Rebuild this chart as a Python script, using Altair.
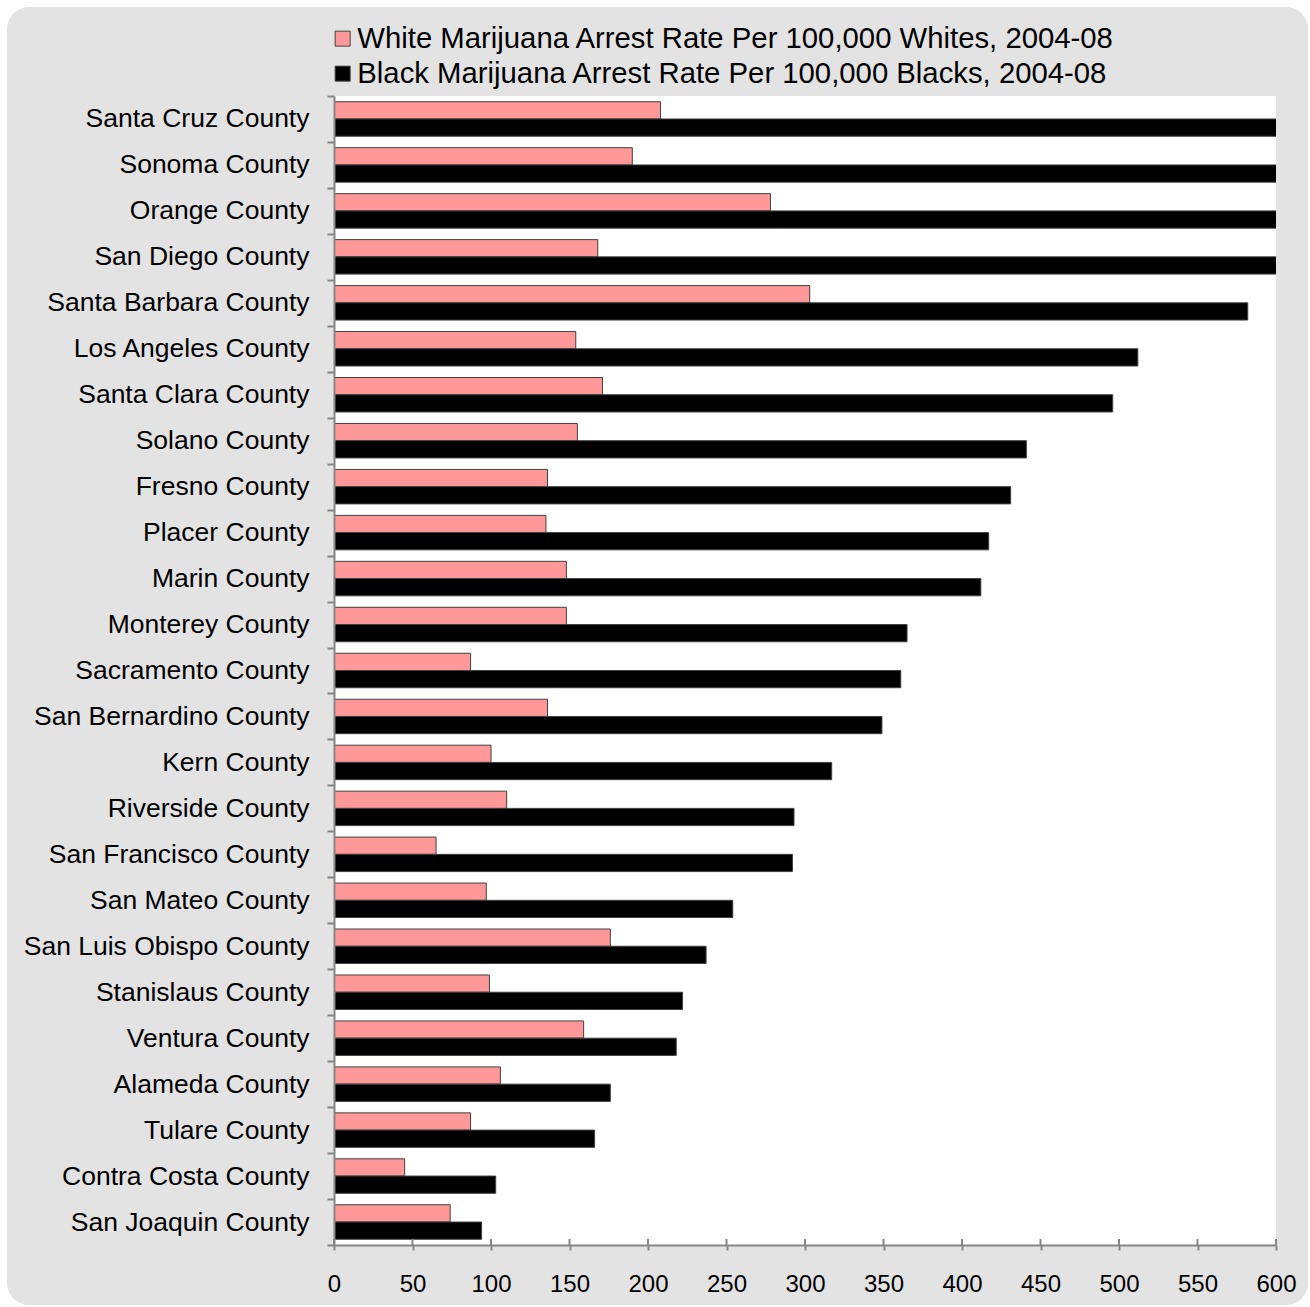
import altair as alt
import pandas as pd

counties = [
    "Santa Cruz County", "Sonoma County", "Orange County", "San Diego County",
    "Santa Barbara County", "Los Angeles County", "Santa Clara County", "Solano County",
    "Fresno County", "Placer County", "Marin County", "Monterey County",
    "Sacramento County", "San Bernardino County", "Kern County", "Riverside County",
    "San Francisco County", "San Mateo County", "San Luis Obispo County", "Stanislaus County",
    "Ventura County", "Alameda County", "Tulare County", "Contra Costa County",
    "San Joaquin County",
]
white_rate = [208, 190, 278, 168, 303, 154, 171, 155, 136, 135, 148, 148,
              87, 136, 100, 110, 65, 97, 176, 99, 159, 106, 87, 45, 74]
black_rate = [650, 640, 630, 620, 582, 512, 496, 441, 431, 417, 412, 365,
              361, 349, 317, 293, 292, 254, 237, 222, 218, 176, 166, 103, 94]
series = [
    "White Marijuana Arrest Rate Per 100,000 Whites, 2004-08",
    "Black Marijuana Arrest Rate Per 100,000 Blacks, 2004-08",
]
series_colors = ["#FF9999", "#000000"]
x_ticks = list(range(0, 601, 50))

rows = []
for c, w, b in zip(counties, white_rate, black_rate):
    rows.append({"county": c, "series": series[0], "value": w})
    rows.append({"county": c, "series": series[1], "value": b})
df = pd.DataFrame(rows)

W, H = 942, 1149
FONT = "Liberation Sans"
AXIS_GREY = "#868686"

one = pd.DataFrame({"a": [0]})

bg = alt.Chart(one).mark_rect(color="#E3E3E3", cornerRadius=22).encode(
    x=alt.value(-327), x2=alt.value(974), y=alt.value(-89), y2=alt.value(1209)
)
plot_bg = alt.Chart(one).mark_rect(color="white").encode(
    x=alt.value(0), x2=alt.value(W), y=alt.value(0), y2=alt.value(H)
)

x_axis = alt.Axis(
    values=x_ticks, title=None, grid=False, labelFontSize=24, labelColor="black",
    labelFont=FONT, tickSize=5, tickWidth=2, tickColor=AXIS_GREY,
    domainColor=AXIS_GREY, domainWidth=2, labelPadding=22, labelFlush=False,
    labelOverlap=False, zindex=1,
)
x_scale = alt.Scale(domain=[0, 600], nice=False)

bars = alt.Chart(df).mark_bar(clip=True, stroke="#404040", strokeWidth=1).encode(
    x=alt.X("value:Q", scale=x_scale, axis=x_axis),
    y=alt.Y(
        "county:N",
        sort=counties,
        scale=alt.Scale(paddingInner=0, paddingOuter=0),
        axis=alt.Axis(
            title=None, tickBand="extent", labelFontSize=26.5, labelColor="black",
            labelFont=FONT, tickSize=7, tickWidth=2, tickColor=AXIS_GREY,
            domainColor=AXIS_GREY, domainWidth=2, labelPadding=18, labelLimit=500,
            zindex=1,
        ),
    ),
    yOffset=alt.YOffset(
        "series:N", sort=series, scale=alt.Scale(paddingInner=0, paddingOuter=0.333)
    ),
    color=alt.Color(
        "series:N",
        sort=series,
        scale=alt.Scale(domain=series, range=series_colors),
        legend=alt.Legend(
            title=None, orient="none", legendX=-6, legendY=-72, direction="vertical",
            symbolType="square", symbolSize=225, symbolStrokeColor="#404040",
            symbolStrokeWidth=1, labelFontSize=29.3, labelFont=FONT, labelColor="black",
            labelOffset=0, rowPadding=5, padding=0, labelLimit=1000,
        ),
    ),
)

inner_ticks = alt.Chart(pd.DataFrame({"value": x_ticks})).mark_rule(
    color=AXIS_GREY, strokeWidth=2
).encode(
    x=alt.X("value:Q", scale=x_scale, axis=x_axis),
    y=alt.value(H - 6),
    y2=alt.value(H),
)

chart = alt.layer(bg, plot_bg, bars, inner_ticks).properties(
    width=W,
    height=H,
    padding={"left": 334, "top": 96, "right": 34, "bottom": 62},
    autosize=alt.AutoSizeParams(type="none"),
    background="white",
).configure_view(strokeWidth=0).configure(font=FONT)

chart.save("out.html", embed_options={"renderer": "svg", "actions": False})
